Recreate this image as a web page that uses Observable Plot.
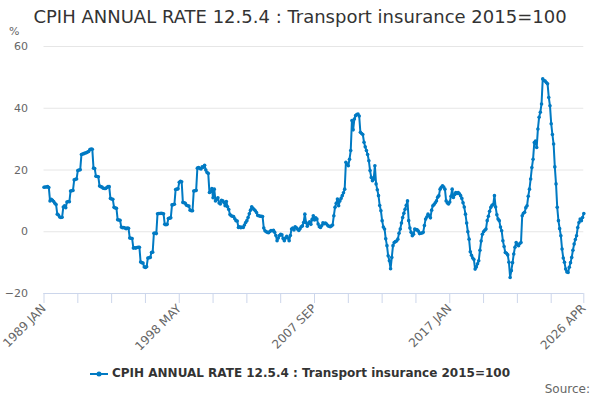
<!DOCTYPE html>
<html>
<head>
<meta charset="utf-8">
<script src="https://cdn.jsdelivr.net/npm/d3@7"></script>
<script src="https://cdn.jsdelivr.net/npm/@observablehq/plot@0.6"></script>
<style>
  body { margin: 0; background: #fff; font-family: "DejaVu Sans", sans-serif; }
  #wrap { position: relative; width: 600px; height: 400px; overflow: hidden; background: #fff; }
  #chart { position: absolute; left: 0; top: 0; }
  #title { position: absolute; top: 6px; left: 0; width: 600px; text-align: center; font-size: 18px; color: #333; white-space: nowrap; }
  #unit { position: absolute; left: 9px; top: 25px; font-size: 11px; color: #666; }
  #legend { position: absolute; top: 366px; left: 0; width: 600px; text-align: center; font-size: 12px; font-weight: bold; color: #333; white-space: nowrap; }
  #legend svg { vertical-align: middle; margin-right: 4px; }
  #source { position: absolute; top: 382px; right: 10px; font-size: 12px; color: #666; }
</style>
</head>
<body>
<div id="wrap">
  <div id="chart"></div>
  <div id="title">CPIH ANNUAL RATE 12.5.4 : Transport insurance 2015=100</div>
  <div id="unit">%</div>
  <div id="legend"><svg width="18" height="8"><line x1="0" y1="4" x2="18" y2="4" stroke="#007ac3" stroke-width="2"/><circle cx="9" cy="4" r="2.5" fill="#007ac3"/></svg>CPIH ANNUAL RATE 12.5.4 : Transport insurance 2015=100</div>
  <div id="source">Source:</div>
</div>
<script>
const startYear = 1989;
const monthNames = ["JAN","FEB","MAR","APR","MAY","JUN","JUL","AUG","SEP","OCT","NOV","DEC"];
const xTickLabels = ["1989 JAN","1998 MAY","2007 SEP","2017 JAN","2026 APR"];
const yTicks = [-20, 0, 20, 40, 60];
const seriesName = "CPIH ANNUAL RATE 12.5.4 : Transport insurance 2015=100";

const values = [
  14.4, 14.5, 14.5, 14.6, 14.3, 10.0, 10.5, 10.2, 9.8, 9.2, 8.8, 5.7,
  5.4, 4.8, 4.6, 4.7, 8.0, 8.4, 7.8, 9.6, 9.8, 9.7, 13.2, 13.3,
  13.4, 16.8, 17.0, 17.1, 19.8, 20.0, 20.1, 25.0, 25.2, 25.3, 25.5, 25.6,
  25.8, 26.0, 26.6, 26.8, 26.7, 20.6, 20.5, 18.0, 17.9, 17.8, 14.8, 14.6,
  14.5, 14.1, 14.0, 14.0, 14.3, 14.6, 14.6, 10.8, 10.6, 10.5, 7.9, 7.7,
  7.6, 3.9, 3.8, 3.7, 1.5, 1.3, 1.4, 1.2, 1.0, 1.2, 1.1, -2.0,
  -2.1, -2.2, -5.3, -5.2, -5.3, -5.1, -5.0, -5.0, -9.8, -10.0, -10.1, -11.4,
  -11.6, -11.3, -8.5, -8.4, -8.3, -6.7, -6.6, -0.5, -0.4, -0.6, 5.8, 5.9,
  5.9, 6.0, 5.9, 5.8, 2.4, 2.3, 2.4, 4.3, 4.4, 4.5, 8.7, 8.8,
  8.9, 13.7, 13.8, 13.9, 16.0, 16.3, 16.2, 9.5, 9.4, 9.2, 8.6, 8.4,
  8.3, 7.0, 6.8, 6.8, 13.2, 13.3, 13.4, 20.6, 20.8, 20.5, 20.3, 21.0,
  20.9, 21.5, 20.0, 19.2, 18.9, 12.7, 13.0, 14.0, 11.0, 13.8, 10.0, 10.5,
  11.0, 9.3, 9.0, 10.2, 10.0, 9.5, 8.4, 9.8, 8.1, 7.2, 5.6, 5.2,
  5.0, 4.9, 4.2, 3.6, 3.5, 1.4, 1.6, 1.3, 1.5, 1.4, 2.2, 3.0,
  3.6, 4.6, 5.8, 7.0, 8.1, 7.6, 7.2, 6.8, 6.2, 5.3, 5.2, 5.0,
  5.0, 4.9, 1.2, 0.3, 0.0, -0.2, -0.3, 0.1, 0.4, 0.3, 0.5, -0.2,
  -1.2, -2.9, -2.0, -1.2, -0.8, -1.0, -2.2, -2.9, -2.0, -1.5, -2.0, -2.9,
  -1.2, 0.9, 1.2, 0.6, 1.6, 1.3, 0.8, 0.4, 1.0, 1.6, 1.9, 3.0,
  5.7, 3.0, 1.8, 2.6, 3.2, 2.4, 4.0, 5.2, 3.8, 4.5, 4.1, 2.5,
  1.6, 1.4, 2.0, 2.9, 2.6, 2.8, 2.5, 2.0, 1.8, 1.6, 1.9, 2.2,
  5.2, 7.9, 9.2, 10.6, 8.4, 10.0, 10.8, 11.7, 12.6, 13.8, 22.5, 21.8,
  21.4, 23.5, 26.3, 36.0, 33.0, 36.5, 37.6, 38.0, 38.1, 37.5, 32.2, 31.8,
  31.5, 29.0, 27.5, 26.3, 25.0, 23.0, 19.8, 17.6, 16.5, 17.0, 21.4, 15.5,
  13.6, 11.7, 8.5, 6.8, 3.6, 1.5, 0.9, -2.3, -4.5, -7.8, -9.4, -12.0,
  -8.3, -4.5, -3.5, -3.2, -3.0, -2.4, -0.5, 0.9, 2.8, 4.6, 6.0, 7.3,
  8.6, 10.0, 3.6, 1.2, -0.2, -1.3, -0.8, 0.9, 0.7, 0.6, 0.2, -0.6,
  -0.5, -0.4, -0.2, 2.0, 4.1, 4.8, 5.7, 5.2, 4.5, 7.0, 8.4, 8.8,
  9.4, 10.0, 11.2, 11.7, 13.8, 14.4, 14.9, 14.5, 13.8, 10.0, 9.3, 9.0,
  9.6, 11.5, 13.8, 11.1, 12.0, 12.7, 12.4, 12.7, 12.3, 11.7, 10.8, 9.4,
  8.0, 5.7, 2.8, 0.0, -2.4, -6.5, -7.6, -8.5, -9.0, -12.1, -11.4, -10.4,
  -9.4, -6.0, -3.0, -0.8, 0.0, 0.5, 0.9, 3.6, 5.0, 6.6, 7.9, 8.6,
  8.8, 11.7, 8.0, 5.5, 4.1, 3.6, 1.5, 0.3, -2.9, -4.8, -6.7, -7.0,
  -7.5, -9.9, -14.8, -12.6, -10.0, -7.2, -5.0, -3.5, -4.2, -4.5, -3.8, -3.5,
  5.2, 6.0, 6.3, 7.8, 8.4, 11.5, 13.8, 17.1, 20.8, 23.5, 28.9, 29.4,
  27.3, 33.3, 37.1, 38.7, 41.4, 49.5, 49.0, 48.8, 48.3, 47.9, 43.5, 40.8,
  35.0, 31.5, 28.4, 21.0, 15.5, 7.9, 3.6, 1.0, -1.3, -5.6, -8.5, -9.9,
  -12.1, -13.0, -13.2, -11.5, -10.0, -8.3, -6.0, -4.0, -2.5, -1.3, 1.4, 3.0,
  4.1, 3.6, 4.6, 5.9
];

const monthLabels = values.map((_, i) => `${startYear + Math.floor(i / 12)} ${monthNames[i % 12]}`);
const data = values.map((v, i) => ({i, label: monthLabels[i], v}));
const lastIndex = values.length - 1;
const labelIndex = xTickLabels.map(l => monthLabels.indexOf(l));
const tickStep = labelIndex[1] / 4;
const xTicks = d3.range(0, lastIndex - tickStep / 2, tickStep).concat([lastIndex]);

const chart = Plot.plot({
  width: 600,
  height: 400,
  marginTop: 46,
  marginBottom: 107,
  marginLeft: 43.5,
  marginRight: 16.7,
  style: {fontFamily: "DejaVu Sans, sans-serif", background: "#fff"},
  x: {domain: [0, lastIndex]},
  y: {domain: [-20, 60]},
  marks: [
    Plot.gridY(yTicks, {stroke: "#e6e6e6", strokeOpacity: 1}),
    Plot.axisY(yTicks, {tickSize: 0, tickPadding: 16, fill: "#666", fontSize: 11, label: null}),
    Plot.ruleY([-20], {stroke: "#ccd6eb", strokeWidth: 1}),
    Plot.axisX(xTicks, {
      tickSize: 10, stroke: "#ccd6eb", strokeOpacity: 1,
      tickFormat: d => labelIndex.includes(d) ? monthLabels[d] : "",
      tickRotate: -45, fill: "#666", fontSize: 12, label: null, tickPadding: 3
    }),
    Plot.line(data, {x: "i", y: "v", stroke: "#007ac3", strokeWidth: 2}),
    Plot.dot(data, {x: "i", y: "v", r: 1.8, fill: "#007ac3", stroke: "none"})
  ]
});
document.getElementById("chart").appendChild(chart);
</script>
</body>
</html>
